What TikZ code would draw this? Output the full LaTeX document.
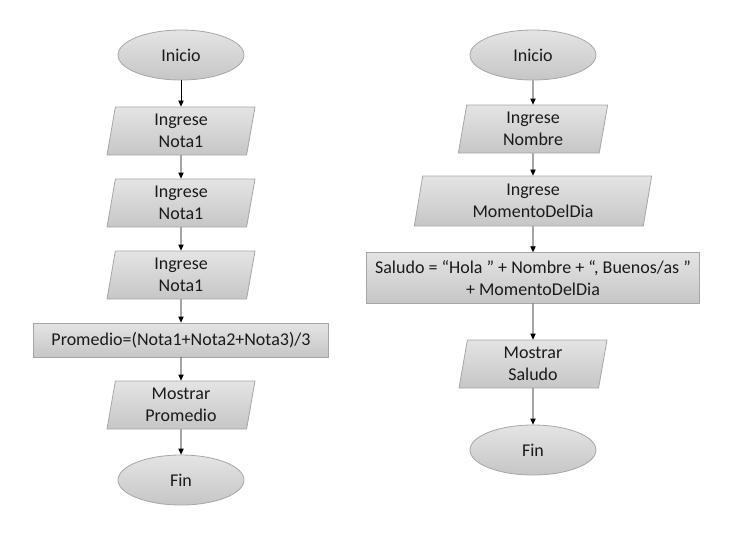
\documentclass[tikz,border=0pt]{standalone}
\usepackage{fontspec}
\setmainfont{Carlito}
\usetikzlibrary{shapes.geometric,arrows.meta}
\definecolor{boxline}{HTML}{A6A6A6}
\definecolor{boxtop}{HTML}{E4E4E4}
\definecolor{boxbottom}{HTML}{C6C6C6}
\definecolor{txt}{HTML}{1A1A1A}
\tikzset{
    box/.style={draw=boxline, line width=0.6pt, top color=boxtop, bottom color=boxbottom,
        text=txt, align=center, inner sep=0pt, font=\fontsize{13.5pt}{16.5pt}\selectfont},
    terminal/.style={box, ellipse, minimum width=94.5pt, minimum height=37.5pt},
    io/.style={box, trapezium, trapezium left angle=76, trapezium right angle=104,
        trapezium stretches body, minimum height=36pt},
    process/.style={box, rectangle}
}
\begin{document}
\begin{tikzpicture}[x=0.75pt, y=-0.75pt, >={Triangle[length=4.5pt,width=4pt]}, line width=0.6pt]
        \useasboundingbox (0, 0) rectangle (736, 537);
        % left flowchart
        \node[terminal] at (181, 55)(inicioA){Inicio};
        \node[io, minimum width=111pt] at (181, 131)(nota1){Ingrese\\Nota1};
        \node[io, minimum width=111pt] at (181, 203)(nota2){Ingrese\\Nota1};
        \node[io, minimum width=111pt] at (181, 275)(nota3){Ingrese\\Nota1};
        \node[process, minimum width=221pt, minimum height=25.5pt] at (181, 340)(promedio){Promedio=(Nota1+Nota2+Nota3)/3};
        \node[io, minimum width=111pt] at (181, 405)(mostrarA){Mostrar\\Promedio};
        \node[terminal] at (181, 480)(finA){Fin};

        % right flowchart
        \node[terminal] at (533, 55)(inicioB){Inicio};
        \node[io, minimum width=112pt] at (533, 129)(nombre){Ingrese\\Nombre};
        \node[io, minimum width=178pt, minimum height=37.5pt] at (533, 201)(momento){Ingrese\\MomentoDelDia};
        \node[process, minimum width=250pt, minimum height=38pt] at (533, 278)(saludo){Saludo = “Hola ” + Nombre + “, Buenos/as ”\\+ MomentoDelDia};
        \node[io, minimum width=111pt] at (533, 364)(mostrarB){Mostrar\\Saludo};
        \node[terminal] at (533, 450)(finB){Fin};

        \path[->, draw=black]
            (inicioA)edge(nota1)
            (nota1)edge(nota2)
            (nota2)edge(nota3)
            (nota3)edge(promedio)
            (promedio)edge(mostrarA)
            (mostrarA)edge(finA)
            (inicioB)edge(nombre)
            (nombre)edge(momento)
            (momento)edge(saludo)
            (saludo)edge(mostrarB)
            (mostrarB)edge(finB)
            ;
    \end{tikzpicture}
\end{document}
